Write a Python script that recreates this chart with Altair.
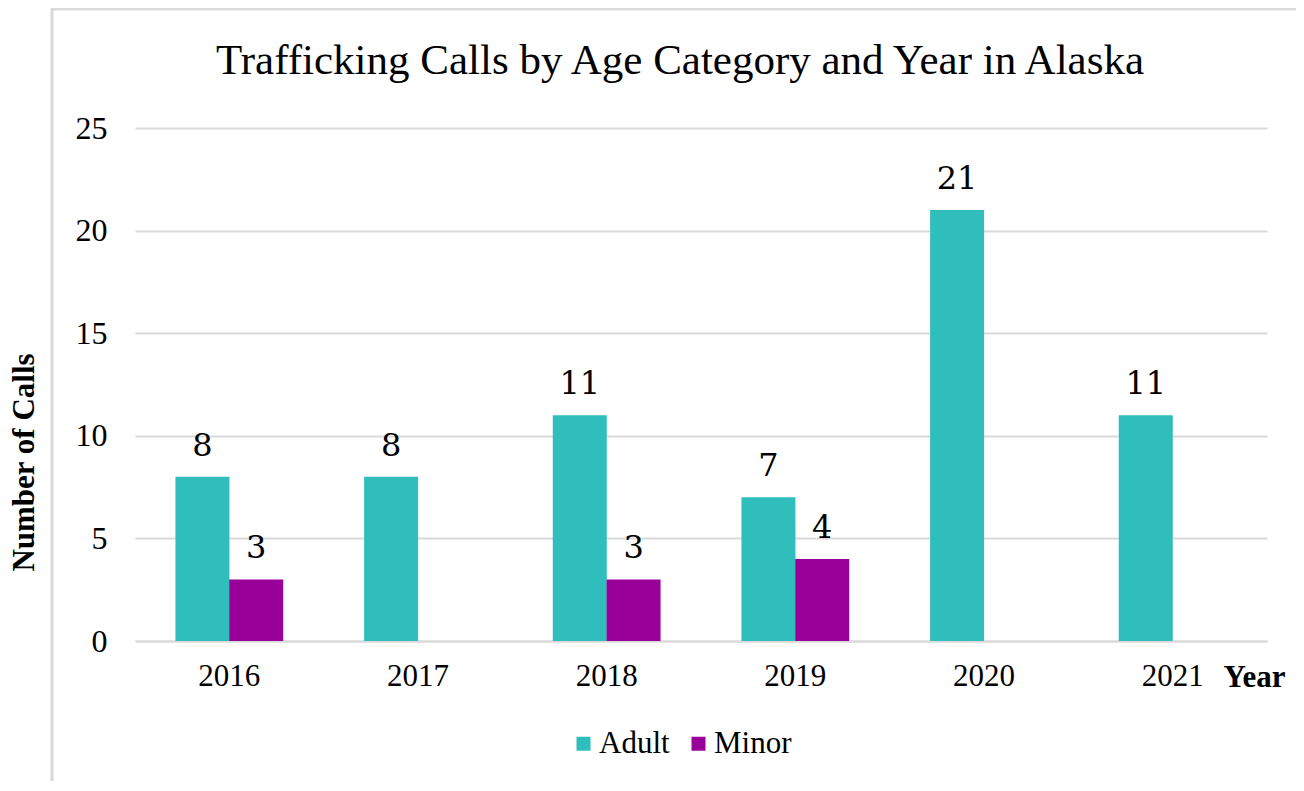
import altair as alt
import pandas as pd

years = ["2016", "2017", "2018", "2019", "2020", "2021"]
adult = [8, 8, 11, 7, 21, 11]
minor = [3, None, 3, 4, None, None]
categories = ["Adult", "Minor"]
colors = ["#2FBEBC", "#990099"]
y_ticks = [0, 5, 10, 15, 20, 25]

rows = []
for i, yr in enumerate(years):
    rows.append({"Year": yr, "Age": "Adult", "Calls": adult[i]})
    if minor[i] is not None:
        rows.append({"Year": yr, "Age": "Minor", "Calls": minor[i]})
df = pd.DataFrame(rows)

SERIF = "Liberation Serif"

x_enc = alt.X(
    "Year:N",
    sort=years,
    scale=alt.Scale(paddingInner=0.43, paddingOuter=0.215),
    axis=alt.Axis(
        title="Year",
        labelAngle=0,
        labelFont=SERIF,
        labelFontSize=31,
        labelColor="#000000",
        labelPadding=20,
        ticks=False,
        grid=False,
        domain=True,
        domainColor="#d9d9d9",
        domainWidth=2,
        titleFont=SERIF,
        titleFontSize=31,
        titleFontWeight="bold",
        titleColor="#000000",
        titleX=1150,
        titleY=45,
        titleAlign="right",
        titleBaseline="alphabetic",
    ),
)
xo_enc = alt.XOffset("Age:N", sort=categories,
                     scale=alt.Scale(domain=categories, paddingInner=0, paddingOuter=0))
y_enc = alt.Y(
    "Calls:Q",
    scale=alt.Scale(domain=[0, 25], nice=False),
    axis=alt.Axis(
        values=y_ticks,
        title="Number of Calls",
        grid=True,
        gridColor="#d9d9d9",
        gridWidth=2,
        domain=False,
        ticks=False,
        labelFont=SERIF,
        labelFontSize=32,
        labelColor="#000000",
        labelPadding=28,
        titleFont=SERIF,
        titleFontSize=31,
        titleFontWeight="bold",
        titleColor="#000000",
        titleX=-111,
        titleY=334,
        titleAlign="center",
        titleBaseline="middle",
        titleAngle=-90,
    ),
)
color_enc = alt.Color(
    "Age:N",
    sort=categories,
    scale=alt.Scale(domain=categories, range=colors),
    legend=alt.Legend(
        title=None,
        orient="none",
        direction="horizontal",
        legendX=433,
        legendY=600,
        symbolType="square",
        symbolSize=196,
        symbolStrokeWidth=0,
        labelFont=SERIF,
        labelFontSize=31,
        labelColor="#000000",
        labelOffset=0,
        columnPadding=13,
    ),
)

base = alt.Chart(df)
bars = base.mark_bar(size=54).encode(x=x_enc, xOffset=xo_enc, y=y_enc, color=color_enc)
labels = base.mark_text(
    font="DejaVu Serif", fontSize=32, baseline="bottom", dy=-14, color="#000000"
).encode(x=alt.X("Year:N", sort=years), xOffset=xo_enc, y="Calls:Q", text="Calls:Q")

frame_df = pd.DataFrame({"k": [0]})
left_border = alt.Chart(frame_df).mark_rule(color="#d9d9d9", strokeWidth=3).encode(
    x=alt.value(-83), y=alt.value(-119), y2=alt.value(660)
)
top_border = alt.Chart(frame_df).mark_rule(color="#d9d9d9", strokeWidth=3).encode(
    x=alt.value(-84), x2=alt.value(1170), y=alt.value(-119)
)

chart = (
    alt.layer(left_border, top_border, bars, labels)
    .properties(
        width=1132,
        height=513,
        padding={"left": 127, "top": 120, "right": 29, "bottom": 140},
        autosize=alt.AutoSizeParams(type="none"),
        title=alt.TitleParams(
            "Trafficking Calls by Age Category and Year in Alaska",
            font=SERIF,
            fontSize=43,
            fontWeight="normal",
            color="#000000",
            anchor="middle",
            baseline="bottom",
            dx=-21,
            dy=118,
            offset=0,
        ),
        background="white",
    )
    .configure_view(stroke=None)
)

chart.save("out.html", embed_options={"renderer": "svg", "actions": False})
